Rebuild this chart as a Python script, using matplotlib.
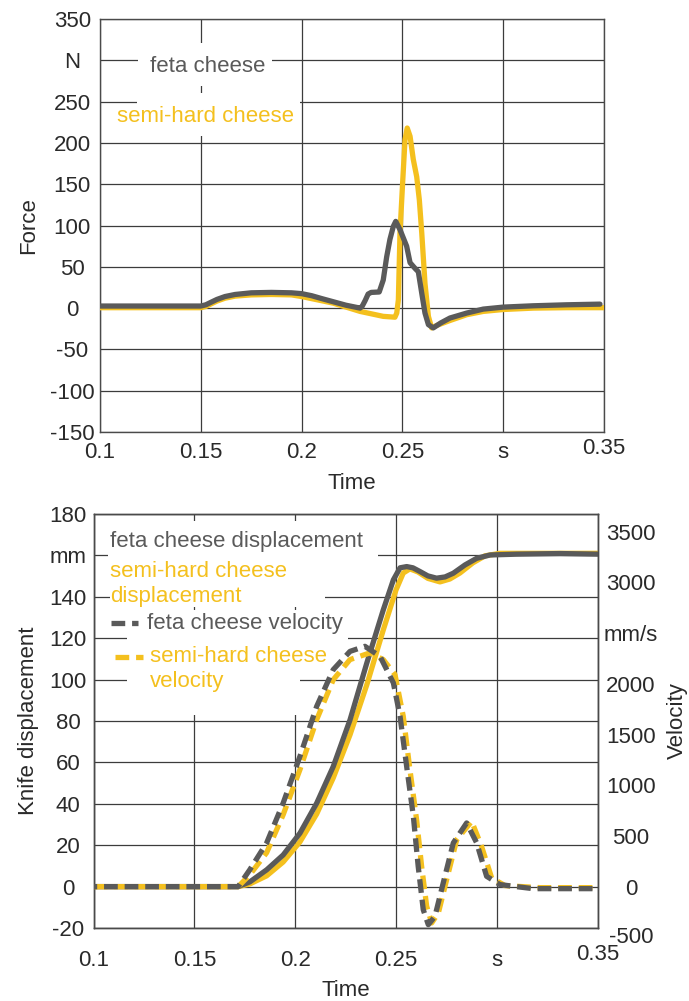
import matplotlib
matplotlib.use("Agg")
import matplotlib.pyplot as plt
from matplotlib.patches import Rectangle
from matplotlib.transforms import ScaledTranslation, blended_transform_factory

plt.rcParams["font.family"] = ["Liberation Sans", "DejaVu Sans"]
plt.rcParams["font.size"] = 16

GRAY = "#5a5a5a"
GOLD = "#f4c01e"
INK = "#2a2a2a"
GRID = "#3c3c3c"
SPINE = "#4a4a4a"

# ---------------- cutting force (N) ----------------
force_time_feta = [0.100, 0.150, 0.1525, 0.155, 0.158, 0.162, 0.167, 0.175, 0.185, 0.195,
                   0.200, 0.205, 0.210, 0.216, 0.222, 0.229, 0.2300, 0.2315, 0.2330, 0.2345,
                   0.2385, 0.2405, 0.2422, 0.2438, 0.2455, 0.2467, 0.2488, 0.2521, 0.2538,
                   0.2563, 0.2579, 0.2596, 0.2612, 0.2629, 0.2653, 0.2690, 0.2736, 0.2819,
                   0.2901, 0.3000, 0.3149, 0.3315, 0.3480]
force_feta = [2.5, 2.5, 4, 7, 10.5, 14, 16.5, 18.5, 19, 18.5,
              17.5, 15, 11.5, 7.5, 3.5, 0, 2, 9, 17, 19,
              19.5, 34, 62, 83, 99, 105, 95, 75, 55,
              48, 44, 18, -6, -20, -24, -18, -12, -6,
              -1.2, 1.2, 2.8, 4, 4.8]

force_time_semi = [0.100, 0.150, 0.1525, 0.155, 0.158, 0.162, 0.167, 0.175, 0.185, 0.195,
                   0.200, 0.2157, 0.229, 0.2405, 0.2463, 0.2472, 0.2480, 0.2488, 0.2501,
                   0.2513, 0.2524, 0.2538, 0.2554, 0.2571, 0.2584, 0.2596, 0.2612, 0.2629,
                   0.2645, 0.2670, 0.2736, 0.2819, 0.2901, 0.3000, 0.3150, 0.3315, 0.3500]
force_semi = [0.5, 0.5, 2, 5, 8.5, 12, 14.5, 16, 16.5, 16,
              14, 6, -4, -10, -11, -6, 10, 91, 151,
              204, 218, 208, 180, 159, 131, 91, 30, -10,
              -24, -21, -15, -8, -4, -1.7, 0, 0.5, 0.5]

# ---------------- knife displacement (mm) ----------------
disp_time_feta = [0.100, 0.1717, 0.1775, 0.1858, 0.1940, 0.2023, 0.2106, 0.2188, 0.2271,
                  0.2354, 0.2436, 0.2486, 0.2519, 0.2552, 0.2583, 0.2618, 0.2657, 0.2700,
                  0.2742, 0.2783, 0.2841, 0.2899, 0.2965, 0.3097, 0.3311, 0.3500]
disp_feta = [0, 0, 2.3, 8.1, 15.3, 25.8, 40.3, 58, 80.5,
             107.9, 133.7, 148.2, 154, 154.6, 154, 152.2, 150.1, 149,
             149.6, 151.4, 155.4, 158.6, 160.2, 160.6, 160.9, 160.6]

disp_time_semi = [0.100, 0.1717, 0.1775, 0.1858, 0.1940, 0.2023, 0.2106, 0.2188, 0.2271,
                  0.2354, 0.2436, 0.2499, 0.2535, 0.2568, 0.2608, 0.2657, 0.2717, 0.2766,
                  0.2816, 0.2880, 0.2940, 0.3014, 0.3500]
disp_semi = [0, 0, 1.3, 5.2, 11.9, 21.6, 35.1, 52.5, 73.3,
             97.4, 124, 143.3, 151.5, 153.5, 152, 148.9, 147.2, 148.6,
             151.5, 156.4, 159.8, 161, 161]

# ---------------- knife velocity (mm/s) ----------------
vel_time_feta = [0.100, 0.1717, 0.1775, 0.1858, 0.1940, 0.2023, 0.2106, 0.2188, 0.2271,
                 0.2345, 0.2420, 0.2486, 0.2519, 0.2552, 0.2585, 0.2609, 0.2634, 0.2659,
                 0.2692, 0.2733, 0.2783, 0.2849, 0.2899, 0.2948, 0.3014, 0.3178, 0.3500]
vel_feta = [0, 0, 168, 431, 825, 1285, 1778, 2140, 2320,
            2370, 2271, 2009, 1680, 1183, 693, 200, -227, -375,
            -293, 36, 431, 628, 431, 102, 20, -20, -20]

vel_time_semi = [0.100, 0.1717, 0.1775, 0.1858, 0.1940, 0.2023, 0.2106, 0.2188, 0.2271,
                 0.2369, 0.2436, 0.2494, 0.2535, 0.2568, 0.2601, 0.2626, 0.2651, 0.2676,
                 0.2709, 0.2750, 0.2800, 0.2874, 0.2923, 0.2973, 0.3039, 0.3212, 0.3500]
vel_semi = [0, 0, 118, 335, 710, 1154, 1647, 2041, 2239,
            2305, 2239, 2091, 1680, 1154, 661, 200, -194, -358,
            -259, 69, 464, 644, 397, 86, 10, -10, -10]

# ---------------- ticks ----------------
time_ticks = [0.1, 0.15, 0.2, 0.25, 0.3, 0.35]
time_labels = ["0.1", "0.15", "0.2", "0.25", "s", "0.35"]
force_ticks = [-150, -100, -50, 0, 50, 100, 150, 200, 250, 300, 350]
force_labels = ["-150", "-100", "-50", "0", "50", "100", "150", "200", "250", "N", "350"]
disp_ticks = [-20, 0, 20, 40, 60, 80, 100, 120, 140, 160, 180]
disp_labels = ["-20", "0", "20", "40", "60", "80", "100", "120", "140", "mm", "180"]
vel_ticks = [0, 500, 1000, 1500, 2000, 2500, 3000, 3500]
vel_labels = ["0", "500", "1000", "1500", "2000", "mm/s", "3000", "3500"]
vel_below = -500


fig = plt.figure(figsize=(6.89, 10.01), dpi=100)
W, H = 689.0, 1001.0


def nudge(label, dx_px, dy_px):
    label.set_transform(label.get_transform()
                        + ScaledTranslation(dx_px / 100.0, dy_px / 100.0, fig.dpi_scale_trans))


def white_box(ax, x0, y0, x1, y1):
    ax.add_patch(Rectangle((x0, y0), x1 - x0, y1 - y0, transform=ax.transAxes,
                           facecolor="white", edgecolor="none", zorder=1))


def style_axes(ax, xpad, ypad):
    ax.set_axisbelow(True)
    ax.grid(True, color=GRID, linewidth=0.9)
    for s in ax.spines.values():
        s.set_color(SPINE)
        s.set_linewidth(1.0)
    ax.tick_params(axis="both", length=0, colors=INK, labelsize=16)
    ax.tick_params(axis="x", pad=xpad)
    ax.tick_params(axis="y", pad=ypad)
    for lbl in ax.get_yticklabels():
        lbl.set_horizontalalignment("center")


# ================= force vs time =================
ax1 = fig.add_axes([100 / W, 1 - 432 / H, 504 / W, 413 / H])
ax1.set_xlim(0.1, 0.35)
ax1.set_ylim(-150, 350)
ax1.set_xticks(time_ticks, time_labels)
ax1.set_yticks(force_ticks, force_labels)
style_axes(ax1, xpad=7.5, ypad=20)
nudge(ax1.get_xticklabels()[-1], 0, 4)

white_box(ax1, 0.0754, 0.8378, 0.3413, 0.9419)
white_box(ax1, 0.0734, 0.7167, 0.3968, 0.8208)

ax1.plot(force_time_semi, force_semi, color=GOLD, lw=3.8, solid_joinstyle="round",
         solid_capstyle="round", zorder=3)
ax1.plot(force_time_feta, force_feta, color=GRAY, lw=3.8, solid_joinstyle="round",
         solid_capstyle="round", zorder=4)

ax1.text(0.2133, 0.8845, "feta cheese", color=GRAY, fontsize=16, ha="center",
         va="center", transform=ax1.transAxes, zorder=5)
ax1.text(0.2103, 0.7651, "semi-hard cheese", color=GOLD, fontsize=16, ha="center",
         va="center", transform=ax1.transAxes, zorder=5)

ax1.set_xlabel("Time", color=INK, fontsize=16)
ax1.xaxis.label.set_va("center")
ax1.xaxis.set_label_coords(0.5, -0.1235)
ax1.set_ylabel("Force", color=INK, fontsize=16)
ax1.yaxis.label.set_va("center")
ax1.yaxis.set_label_coords(-0.1419, 0.5)

# ================= displacement / velocity vs time =================
ax2 = fig.add_axes([93.5 / W, 1 - 928 / H, 504.5 / W, 414 / H])
ax2.set_xlim(0.1, 0.35)
ax2.set_ylim(-20, 180)
ax2.set_xticks(time_ticks, time_labels)
ax2.set_yticks(disp_ticks, disp_labels)
style_axes(ax2, xpad=16, ypad=18.4)
nudge(ax2.get_xticklabels()[-1], 0, 6)

axv = ax2.twinx()
axv.set_ylim(-408, 3675)
axv.set_yticks(vel_ticks, vel_labels)
axv.tick_params(axis="y", length=0, colors=INK, labelsize=16, pad=23.8)
for s in axv.spines.values():
    s.set_color(SPINE)
    s.set_linewidth(1.0)
for lbl in axv.get_yticklabels():
    lbl.set_horizontalalignment("center")
axv.text(1.0654, vel_below, str(vel_below), color=INK, fontsize=16, ha="center",
         va="center", clip_on=False,
         transform=blended_transform_factory(axv.transAxes, axv.transData))

for box in [(0.0287, 0.8961, 0.5639, 0.9831),
            (0.0327, 0.7754, 0.4589, 0.9058),
            (0.0287, 0.7053, 0.5045, 0.7681),
            (0.0664, 0.6304, 0.5045, 0.7053),
            (0.0664, 0.5145, 0.4093, 0.6304)]:
    white_box(ax2, *box)

ax2.plot(disp_time_semi, disp_semi, color=GOLD, lw=3.8, solid_joinstyle="round", zorder=3)
ax2.plot(disp_time_feta, disp_feta, color=GRAY, lw=3.8, solid_joinstyle="round", zorder=4)

dash = (0, (2.6, 1.3))
axv.plot(vel_time_semi, vel_semi, color=GOLD, lw=3.8, linestyle=dash, zorder=3)
axv.plot(vel_time_feta, vel_feta, color=GRAY, lw=3.8, linestyle=(1.9, (2.6, 1.3)), zorder=4)

# legend block
ax2.text(0.0327, 0.9324, "feta cheese displacement", color=GRAY, fontsize=16,
         va="center", transform=ax2.transAxes, zorder=5)
ax2.text(0.0327, 0.8606, "semi-hard cheese", color=GOLD, fontsize=16,
         va="center", transform=ax2.transAxes, zorder=5)
ax2.text(0.0327, 0.8002, "displacement", color=GOLD, fontsize=16,
         va="center", transform=ax2.transAxes, zorder=5)
ax2.plot([0.0347, 0.0882], [0.7360, 0.7360], color=GRAY, lw=3.8, linestyle=dash,
         transform=ax2.transAxes, zorder=5)
ax2.text(0.1055, 0.7360, "feta cheese velocity", color=GRAY, fontsize=16,
         va="center", transform=ax2.transAxes, zorder=5)
ax2.plot([0.0426, 0.0981], [0.6553, 0.6553], color=GOLD, lw=3.8, linestyle=dash,
         transform=ax2.transAxes, zorder=5)
ax2.text(0.1120, 0.6553, "semi-hard cheese", color=GOLD, fontsize=16,
         va="center", transform=ax2.transAxes, zorder=5)
ax2.text(0.1120, 0.5949, "velocity", color=GOLD, fontsize=16,
         va="center", transform=ax2.transAxes, zorder=5)

ax2.set_xlabel("Time", color=INK, fontsize=16)
ax2.xaxis.label.set_va("center")
ax2.xaxis.set_label_coords(0.5, -0.1498)
ax2.set_ylabel("Knife displacement", color=INK, fontsize=16)
ax2.yaxis.label.set_va("center")
ax2.yaxis.set_label_coords(-0.1298, 0.5)
axv.set_ylabel("Velocity", color=INK, fontsize=16, rotation=90)
axv.yaxis.label.set_va("center")
axv.yaxis.set_label_coords(1.1576, 0.5)

fig.savefig("out.png", dpi=100, facecolor="white")
